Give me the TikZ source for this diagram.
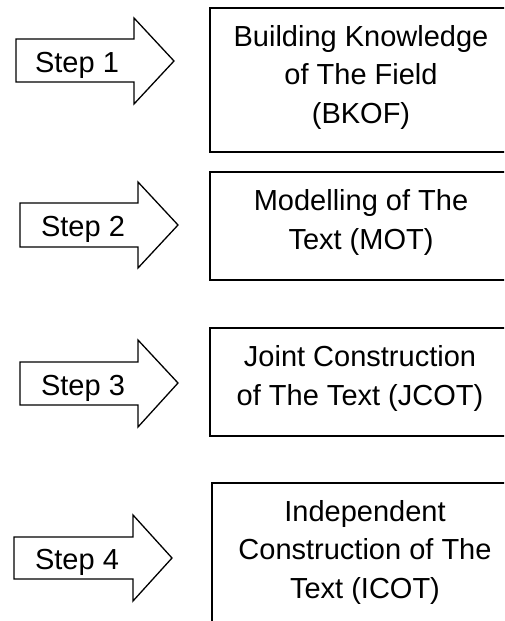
\documentclass[tikz,border=0pt]{standalone}
\usepackage{fontspec}
\setmainfont{Liberation Sans}
\usetikzlibrary{positioning}

\begin{document}
\begin{tikzpicture}[x=1pt, y=-1pt,
        stagebox/.style={draw, line width=1.7pt, minimum width=302pt, inner sep=0pt},
        stagetext/.style={font=\fontsize{29}{38.5}\selectfont, align=center, inner sep=0pt, anchor=base},
        arrowshape/.style={draw, line width=1.3pt, line join=miter}]
        \clip (0,0) rectangle (504,621);
        \draw[arrowshape] (16,39) -- (134,39) -- (134,18) -- (174,61) -- (134,104) -- (134,82) -- (16,82) -- cycle;
        \draw[arrowshape] (20,203) -- (138,203) -- (138,182) -- (178,225) -- (138,268) -- (138,247) -- (20,247) -- cycle;
        \draw[arrowshape] (20,362) -- (138,362) -- (138,340) -- (178,383) -- (138,427) -- (138,405) -- (20,405) -- cycle;
        \draw[arrowshape] (14,537) -- (133,537) -- (133,515) -- (172,558) -- (133,601) -- (133,579) -- (14,579) -- cycle;
        \node[stagetext] (s1) at (77,72) {Step 1};
        \node[stagetext] (s2) at (83,236) {Step 2};
        \node[stagetext] (s3) at (83,395) {Step 3};
        \node[stagetext] (s4) at (77,569) {Step 4};
        \node[stagebox, minimum height=144pt] (b1) at (361,80) {};
        \node[stagebox, minimum height=108pt] (b2) at (361,226) {};
        \node[stagebox, minimum height=108pt] (b3) at (361,382) {};
        \node[stagebox, minimum height=177pt] (b4) at (363,571.5) {};
        \node[stagetext] (t1) at (361,123) {Building Knowledge\\of The Field\\(BKOF)};
        \node[stagetext] (t2) at (361,249) {Modelling of The\\Text (MOT)};
        \node[stagetext] (t3) at (360,405) {Joint Construction\\of The Text (JCOT)};
        \node[stagetext] (t4) at (365,598) {Independent\\Construction of The\\Text (ICOT)};
    \end{tikzpicture}
\end{document}
